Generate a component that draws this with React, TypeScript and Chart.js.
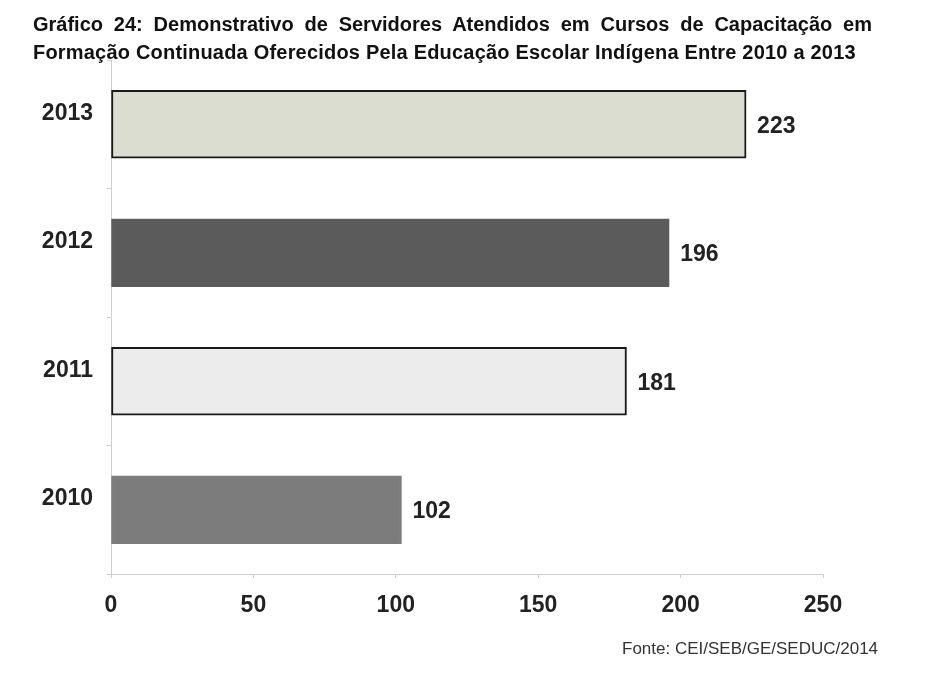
import React, { useEffect, useRef } from "react";
import { Chart, registerables } from "chart.js";

Chart.register(...registerables);

const titleLine1 = "Gráfico 24: Demonstrativo de Servidores Atendidos em Cursos de Capacitação em";
const titleLine2 = "Formação Continuada Oferecidos Pela Educação Escolar Indígena Entre 2010 a 2013";
const sourceText = "Fonte: CEI/SEB/GE/SEDUC/2014";
const categories = ["2013", "2012", "2011", "2010"];
const values = [223, 196, 181, 102];
const barColors = ["#dcddd1", "#5b5b5b", "#ececec", "#7c7c7c"];
const barBorders = ["#1a1a1a", "#5b5b5b", "#1a1a1a", "#7c7c7c"];
const xMin = 0;
const xMax = 250;
const xStep = 50;

const FONT = "'Liberation Sans', Arial, sans-serif";

const valueLabelPlugin = {
  id: "valueLabels",
  afterDatasetsDraw(chart: any) {
    const ctx = chart.ctx;
    const meta = chart.getDatasetMeta(0);
    ctx.save();
    ctx.font = "bold 23px " + FONT;
    ctx.fillStyle = "#222";
    ctx.textAlign = "left";
    ctx.textBaseline = "middle";
    meta.data.forEach((bar: any, i: number) => {
      ctx.fillText(String(values[i]), bar.x + 11, bar.y + 2);
    });
    ctx.restore();
  },
};

export default function App() {
  const ref = useRef<HTMLCanvasElement | null>(null);
  useEffect(() => {
    if (!ref.current) return;
    const chart = new Chart(ref.current, {
      type: "bar",
      data: {
        labels: categories,
        datasets: [
          {
            data: values,
            backgroundColor: barColors,
            borderColor: barBorders,
            borderWidth: 2,
            borderSkipped: false,
            barThickness: 68,
          },
        ],
      },
      options: {
        indexAxis: "y",
        animation: false,
        responsive: false,
        layout: { padding: { top: 52, right: 95, left: 0, bottom: 0 } },
        plugins: { legend: { display: false }, tooltip: { enabled: false }, title: { display: false } },
        scales: {
          x: {
            min: xMin,
            max: xMax,
            ticks: {
              stepSize: xStep,
              color: "#222",
              padding: 14,
              font: { family: FONT, size: 23, weight: "bold" },
            },
            grid: { display: true, drawOnChartArea: false, drawTicks: true, tickLength: 4, color: "#cfcfcf" },
            border: { display: true, color: "#cfcfcf", width: 1 },
            afterFit: (s: any) => { s.height = 98; },
          },
          y: {
            ticks: {
              color: "#222",
              padding: 14,
              labelOffset: -11,
              font: { family: FONT, size: 23, weight: "bold" },
            },
            grid: { display: true, offset: true, drawOnChartArea: false, drawTicks: true, tickLength: 4, color: "#cfcfcf" },
            border: { display: true, color: "#cfcfcf", width: 1 },
            afterFit: (s: any) => { s.width = 103; },
          },
        },
      },
      plugins: [valueLabelPlugin],
    } as any);
    return () => chart.destroy();
  }, []);

  return (
    <div style={{ position: "relative", width: 910, height: 664, background: "#fff" }}>
      <canvas ref={ref} width={910} height={664} style={{ position: "absolute", left: 0, top: 0 }} />
      <div
        style={{
          position: "absolute",
          left: 25,
          top: 2,
          width: 839,
          fontFamily: FONT,
          fontWeight: "bold",
          fontSize: 20,
          lineHeight: "28px",
          color: "#111",
        }}
      >
        <div style={{ textAlign: "justify", textAlignLast: "justify", whiteSpace: "nowrap" } as any}>{titleLine1}</div>
        <div style={{ whiteSpace: "nowrap", letterSpacing: "0.2px" }}>{titleLine2}</div>
      </div>
      <div
        style={{
          position: "absolute",
          left: 614,
          top: 631,
          fontFamily: FONT,
          fontSize: 17,
          color: "#333",
          whiteSpace: "nowrap",
        }}
      >
        {sourceText}
      </div>
    </div>
  );
}
